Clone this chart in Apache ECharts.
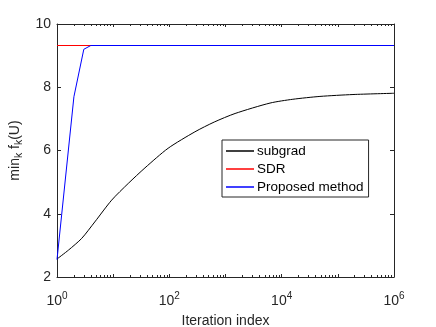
<!DOCTYPE html>
<html>
<head>
<meta charset="utf-8">
<script src="https://cdn.jsdelivr.net/npm/echarts@6/dist/echarts.min.js"></script>
<style>
  html, body { margin: 0; padding: 0; background: #fff; }
  #chart { width: 436px; height: 327px; }
</style>
</head>
<body>
<div id="chart"></div>
<script>
// iteration index (log x) and objective values
const subgradIter = [1, 1.6, 2.75, 4.7, 9.4, 18.6, 36.8, 95, 285, 630, 1480, 6200, 15800, 48000, 186000, 1000000];
const subgradVal = [2.57, 2.85, 3.22, 3.74, 4.43, 4.96, 5.45, 6.07, 6.59, 6.9, 7.17, 7.5, 7.62, 7.71, 7.77, 7.81];

const sdrIter = [1, 1000000];
const sdrVal = [9.32, 9.32];

const propIter = [1, 2, 3, 4, 1000000];
const propVal = [2.55, 7.7, 9.2, 9.32, 9.32];

const yTicks = [2, 4, 6, 8, 10];
const xLabelExps = [0, 2, 4, 6];

const axisColor = '#262626';
const fontFamily = 'Liberation Sans, Arial, Helvetica, sans-serif';

function pairs(xs, ys) {
  return xs.map((x, i) => [x, ys[i]]);
}

const chart = echarts.init(document.getElementById('chart'));

const xCommon = {
  type: 'log',
  logBase: 10,
  min: 1,
  max: 1000000,
  axisLine: { show: true, onZero: false, lineStyle: { color: axisColor, width: 1 } },
  axisTick: { show: true, inside: true, length: 3, lineStyle: { color: axisColor } },
  minorTick: { show: true, splitNumber: 9, length: 2, lineStyle: { color: axisColor } },
  splitLine: { show: false },
  minorSplitLine: { show: false }
};

const yCommon = {
  type: 'value',
  min: 2,
  max: 10,
  interval: 2,
  axisLine: { show: true, onZero: false, lineStyle: { color: axisColor, width: 1 } },
  axisTick: { show: true, inside: true, length: 4, lineStyle: { color: axisColor } },
  splitLine: { show: false }
};

const option = {
  animation: false,
  backgroundColor: '#fff',
  grid: { left: 57, right: 42, top: 24, bottom: 50, outerBoundsMode: 'none', containLabel: false },
  xAxis: [
    Object.assign({}, xCommon, {
      position: 'bottom',
      name: 'Iteration index',
      nameLocation: 'middle',
      nameGap: 37,
      nameTextStyle: { color: axisColor, fontSize: 14, fontFamily: fontFamily },
      axisLabel: {
        margin: 14,
        formatter: v => {
          const e = Math.round(Math.log10(v));
          return xLabelExps.indexOf(e) >= 0 ? '{b|10}{p|' + e + '}' : '';
        },
        rich: {
          b: { fontSize: 14, color: axisColor, fontFamily: fontFamily },
          p: { fontSize: 10, color: axisColor, fontFamily: fontFamily, padding: [0, 0, 10, 0] }
        }
      }
    }),
    Object.assign({}, xCommon, {
      position: 'top',
      axisLabel: { show: false }
    })
  ],
  yAxis: [
    Object.assign({}, yCommon, {
      position: 'left',
      name: '{a|min}{s|k}{a| f}{s|k}{a|(U)}',
      nameLocation: 'middle',
      nameRotate: 90,
      nameGap: 18,
      nameTextStyle: {
        rich: {
          a: { fontSize: 14, color: axisColor, fontFamily: fontFamily },
          s: { fontSize: 10.5, color: axisColor, fontFamily: fontFamily, padding: [8, 0, 0, 0] }
        }
      },
      axisLabel: {
        margin: 6,
        color: axisColor,
        fontSize: 14,
        fontFamily: fontFamily,
        formatter: v => (yTicks.indexOf(v) >= 0 ? String(v) : '')
      }
    }),
    Object.assign({}, yCommon, {
      position: 'right',
      axisLabel: { show: false }
    })
  ],
  legend: {
    orient: 'vertical',
    left: 222,
    top: 140,
    padding: [4, 5, 3, 4],
    itemGap: 4,
    itemWidth: 28,
    itemHeight: 1.5,
    icon: 'rect',
    borderColor: axisColor,
    borderWidth: 1,
    backgroundColor: '#fff',
    textStyle: { color: '#000', fontSize: 13.5, fontFamily: fontFamily, lineHeight: 14, padding: [0, 0, 0, -2] },
    data: ['subgrad', 'SDR', 'Proposed method']
  },
  series: [
    {
      name: 'subgrad',
      type: 'line',
      data: pairs(subgradIter, subgradVal),
      smooth: 0.25,
      symbol: 'none',
      lineStyle: { color: '#000', width: 1 },
      itemStyle: { color: '#000' }
    },
    {
      name: 'SDR',
      type: 'line',
      data: pairs(sdrIter, sdrVal),
      symbol: 'none',
      lineStyle: { color: '#ff0000', width: 1 },
      itemStyle: { color: '#ff0000' }
    },
    {
      name: 'Proposed method',
      type: 'line',
      data: pairs(propIter, propVal),
      symbol: 'none',
      lineStyle: { color: '#0000ff', width: 1 },
      itemStyle: { color: '#0000ff' }
    }
  ]
};

chart.setOption(option);
</script>
</body>
</html>
